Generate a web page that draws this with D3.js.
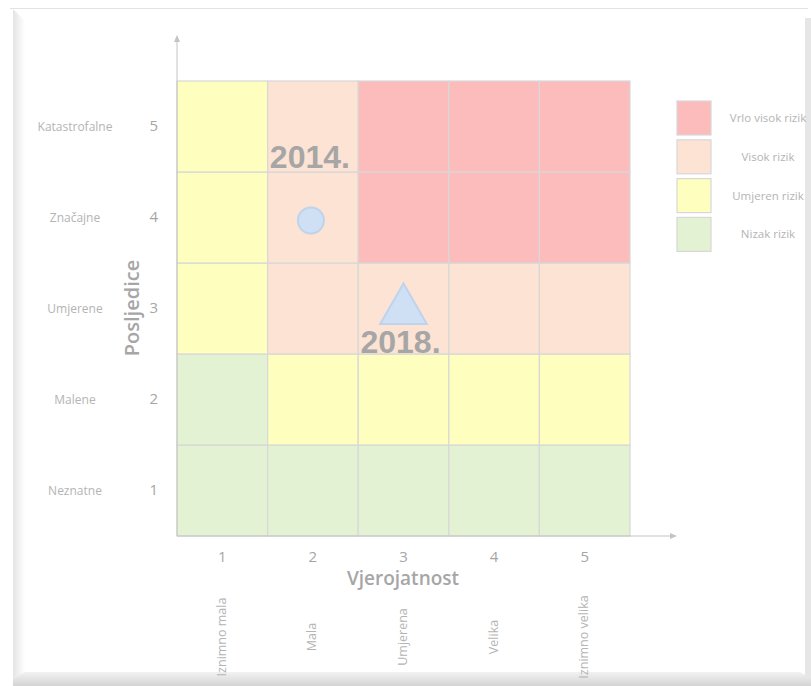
<!DOCTYPE html>
<html>
<head>
<meta charset="utf-8">
<script src="https://cdn.jsdelivr.net/npm/d3@7"></script>
<style>
  html, body { margin: 0; padding: 0; background: #ffffff; }
  svg { display: block; }
</style>
</head>
<body>
<svg id="chart" width="811" height="686"></svg>
<script>
// Likelihood (x) and consequence (y) scales, 1..5
const likelihoodTicks = [1, 2, 3, 4, 5];
const likelihoodLabels = ["Iznimno mala", "Mala", "Umjerena", "Velika", "Iznimno velika"];
const consequenceTicks = [1, 2, 3, 4, 5];
const consequenceLabels = ["Neznatne", "Malene", "Umjerene", "Značajne", "Katastrofalne"];

// Risk levels, most severe first
const riskLevels = ["Vrlo visok rizik", "Visok rizik", "Umjeren rizik", "Nizak rizik"];
const riskColors = ["#fdbcbc", "#fce3d3", "#fefebf", "#e2f2d2"];

// Risk level index per cell: one row per consequence (1..5), one entry per likelihood (1..5)
const consequence1 = [3, 3, 3, 3, 3];
const consequence2 = [3, 2, 2, 2, 2];
const consequence3 = [2, 1, 1, 1, 1];
const consequence4 = [2, 1, 0, 0, 0];
const consequence5 = [2, 1, 0, 0, 0];
const riskRows = [consequence1, consequence2, consequence3, consequence4, consequence5];

// Assessments plotted on the matrix
const assessmentYears = ["2014.", "2018."];
const assessmentLikelihood = [2, 3];
const assessmentConsequence = [4, 3];
const assessmentShapes = ["circle", "triangle"];

const svg = d3.select("#chart");
const grey = "#a6a6a6";
const font = "'Open Sans', 'Noto Sans', sans-serif";

// ---- page frame with bevelled edges ----
const defs = svg.append("defs");
const lg = defs.append("linearGradient").attr("id", "leftBevel").attr("x1", 0).attr("x2", 1);
lg.append("stop").attr("offset", 0).attr("stop-color", "#e4e4e4");
lg.append("stop").attr("offset", 1).attr("stop-color", "#ffffff");
const bg = defs.append("linearGradient").attr("id", "bottomBevel").attr("x1", 0).attr("x2", 0).attr("y1", 0).attr("y2", 1);
bg.append("stop").attr("offset", 0).attr("stop-color", "#f2f2f2");
bg.append("stop").attr("offset", 1).attr("stop-color", "#d4d4d4");

svg.append("line").attr("x1", 10).attr("x2", 808).attr("y1", 8.5).attr("y2", 8.5)
  .attr("stroke", "#e3e3e3").attr("stroke-width", 1);
svg.append("polygon").attr("points", "13,9 25,21 25,672 13,678")
  .attr("fill", "url(#leftBevel)");
svg.append("polygon").attr("points", "13,678 25,672 800,672 811,678 811,686 13,686")
  .attr("fill", "url(#bottomBevel)");
svg.append("rect").attr("x", 805).attr("y", 18).attr("width", 6).attr("height", 660)
  .attr("fill", "#e6e6e6");

// ---- scales ----
const x = d3.scaleBand().domain(likelihoodTicks).range([177, 630]);
const y = d3.scaleBand().domain(consequenceTicks.slice().reverse()).range([81, 536]);

// ---- matrix cells ----
const cells = [];
riskRows.forEach((row, i) => {
  row.forEach((level, j) => {
    cells.push({ c: consequenceTicks[i], l: likelihoodTicks[j], level });
  });
});
svg.append("g").selectAll("rect").data(cells).join("rect")
  .attr("x", d => x(d.l))
  .attr("y", d => y(d.c))
  .attr("width", x.bandwidth())
  .attr("height", y.bandwidth())
  .attr("fill", d => riskColors[d.level])
  .attr("stroke", "#d8d8d8")
  .attr("stroke-width", 1.2);

// ---- axis lines with arrowheads ----
const axisColor = "#c4c4c4";
svg.append("line").attr("x1", 177).attr("x2", 177).attr("y1", 536).attr("y2", 40)
  .attr("stroke", axisColor).attr("stroke-width", 1);
svg.append("path").attr("d", "M177,35 L174,42 L180,42 Z").attr("fill", axisColor);
svg.append("line").attr("x1", 177).attr("x2", 672).attr("y1", 536).attr("y2", 536)
  .attr("stroke", axisColor).attr("stroke-width", 1);
svg.append("path").attr("d", "M677,536 L670,533 L670,539 Z").attr("fill", axisColor);

// ---- bottom axis: likelihood numbers ----
const xAxis = svg.append("g").attr("transform", "translate(0,536)")
  .call(d3.axisBottom(x).tickSize(0).tickPadding(15));
xAxis.select(".domain").remove();
xAxis.selectAll("text").attr("font-family", font).attr("font-size", 15).attr("fill", grey);

// ---- left axis: consequence numbers ----
const yAxis = svg.append("g").attr("transform", "translate(177,0)")
  .call(d3.axisLeft(y).tickSize(0).tickPadding(19));
yAxis.select(".domain").remove();
yAxis.selectAll("text").attr("font-family", font).attr("font-size", 15).attr("fill", grey);

// ---- descriptive labels ----
svg.append("g").selectAll("text").data(consequenceTicks).join("text")
  .attr("x", 75)
  .attr("y", d => y(d) + y.bandwidth() / 2)
  .attr("dy", "0.35em")
  .attr("text-anchor", "middle")
  .attr("font-family", font).attr("font-size", 12).attr("fill", "#b4b4b4")
  .text((d, i) => consequenceLabels[i]);

svg.append("g").selectAll("text").data(likelihoodTicks).join("text")
  .attr("transform", d => `translate(${x(d) + x.bandwidth() / 2 + 3.5},637) rotate(-90)`)
  .attr("text-anchor", "middle")
  .attr("font-family", font).attr("font-size", 12.5).attr("fill", "#b4b4b4")
  .text((d, i) => likelihoodLabels[i]);

// ---- axis titles ----
svg.append("text")
  .attr("transform", "translate(139,308) rotate(-90)")
  .attr("text-anchor", "middle")
  .attr("font-family", font).attr("font-size", 20).attr("font-weight", 600).attr("fill", grey)
  .text("Posljedice");
svg.append("text")
  .attr("x", 403).attr("y", 585)
  .attr("text-anchor", "middle")
  .attr("font-family", font).attr("font-size", 19).attr("font-weight", 600).attr("fill", grey)
  .text("Vjerojatnost");

// ---- legend ----
const legend = svg.append("g").selectAll("g").data(riskLevels).join("g")
  .attr("transform", (d, i) => `translate(677,${101 + i * 38.8})`);
legend.append("rect")
  .attr("width", 34).attr("height", 34)
  .attr("fill", (d, i) => riskColors[i])
  .attr("stroke", "#d8d8d8").attr("stroke-width", 1.2);
legend.append("text")
  .attr("x", 91).attr("y", 17).attr("dy", "0.35em")
  .attr("text-anchor", "middle")
  .attr("font-family", font).attr("font-size", 11.5).attr("fill", "#b4b4b4")
  .text(d => d);

// ---- assessment markers ----
const marks = assessmentYears.map((year, i) => ({
  year,
  l: assessmentLikelihood[i],
  c: assessmentConsequence[i],
  shape: assessmentShapes[i]
}));
const markFill = "#cfe0f4";
const markStroke = "#bdd3ee";
const mg = svg.append("g").selectAll("g").data(marks).join("g")
  .attr("transform", d => `translate(${x(d.l) + x.bandwidth() / 2},${y(d.c) + y.bandwidth() / 2})`);
mg.filter(d => d.shape === "circle").append("circle")
  .attr("cx", -2).attr("cy", 3).attr("r", 13)
  .attr("fill", markFill).attr("stroke", markStroke).attr("stroke-width", 2);
mg.filter(d => d.shape === "triangle").append("path")
  .attr("transform", "translate(0,2)")
  .attr("d", d3.symbol().type(d3.symbolTriangle).size(940)())
  .attr("fill", markFill).attr("stroke", markStroke).attr("stroke-width", 2);
mg.append("text")
  .attr("x", -3)
  .attr("y", d => d.shape === "circle" ? -50 : 44)
  .attr("text-anchor", "middle")
  .attr("font-family", "'Liberation Sans', Arial, sans-serif")
  .attr("font-size", 32).attr("font-weight", "bold").attr("fill", grey)
  .text(d => d.year);
</script>
</body>
</html>
